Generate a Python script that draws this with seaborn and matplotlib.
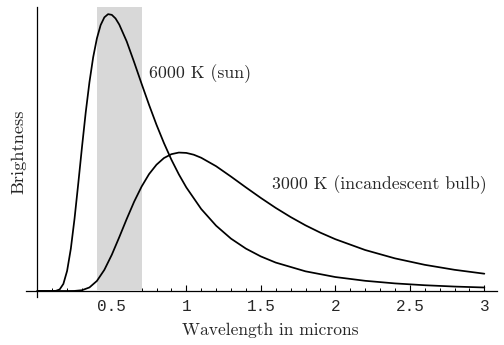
import matplotlib
matplotlib.use("Agg")
import matplotlib.pyplot as plt
import seaborn as sns
import pandas as pd
from matplotlib.ticker import MultipleLocator, FixedLocator

# Wavelength (microns) and brightness (arbitrary units)
lam_sun = [0, 0.05, 0.1, 0.125, 0.15, 0.175, 0.2, 0.225, 0.25, 0.275,
           0.3, 0.325, 0.35, 0.375, 0.4, 0.425, 0.45, 0.475, 0.5, 0.525, 0.55,
           0.6, 0.65, 0.7, 0.75, 0.8, 0.85, 0.9, 0.95, 1.0, 1.1,
           1.2, 1.3, 1.4, 1.5, 1.6, 1.8, 2.0, 2.2, 2.4, 2.6, 2.8, 3.0]
bright_sun = [0, 0, 0.0, 0.0006, 0.0056, 0.0256, 0.0725, 0.1525, 0.2615, 0.3884,
              0.520, 0.645, 0.754, 0.844, 0.912, 0.960, 0.988, 0.9995, 0.997, 0.984, 0.962,
              0.901, 0.826, 0.748, 0.672, 0.600, 0.534, 0.474, 0.421, 0.374, 0.296,
              0.2357, 0.189, 0.153, 0.1248, 0.1026, 0.0710, 0.0504, 0.0368, 0.0274, 0.0208,
              0.0160, 0.0126]

lam_bulb = [0, 0.2, 0.25, 0.3, 0.35, 0.4, 0.45, 0.5, 0.55, 0.6,
            0.65, 0.7, 0.75, 0.8, 0.85, 0.9, 0.95, 1.0, 1.05, 1.1,
            1.2, 1.3, 1.4, 1.5, 1.6, 1.7, 1.8, 1.9, 2.0, 2.2,
            2.4, 2.6, 2.8, 3.0]
bright_bulb = [0, 0, 0.0003, 0.0028, 0.0128, 0.0363, 0.0763, 0.1308, 0.1942, 0.260,
               0.3225, 0.377, 0.422, 0.456, 0.480, 0.494, 0.4998, 0.4985, 0.492, 0.481,
               0.4505, 0.413, 0.374, 0.336, 0.300, 0.267, 0.237, 0.2105, 0.187, 0.148,
               0.1178, 0.0945, 0.0765, 0.0624]

visible_band = [0.4, 0.7]
x_ticks = [0.5, 1, 1.5, 2, 2.5, 3]
x_tick_labels = ["0.5", "1", "1.5", "2", "2.5", "3"]
label_sun = "6000 K (sun)"
label_bulb = "3000 K (incandescent bulb)"

sns.set_style("white")

df_sun = pd.DataFrame({"lam": lam_sun, "b": bright_sun})
df_bulb = pd.DataFrame({"lam": lam_bulb, "b": bright_bulb})

fig = plt.figure(figsize=(5.04, 3.45), dpi=100)
ax = fig.add_axes([26 / 504, 1 - 297 / 345, 471 / 504, 290 / 345])

XMIN, XMAX = -0.0758, 3.085
YMIN, YMAX = -0.0217, 1.0253

ax.fill_between(visible_band, 0, YMAX, color="#d8d8d8", lw=0, zorder=3)

sns.lineplot(data=df_sun, x="lam", y="b", ax=ax, color="black", lw=1.25,
             sort=False, zorder=4)
sns.lineplot(data=df_bulb, x="lam", y="b", ax=ax, color="black", lw=1.25,
             sort=False, zorder=4)

ax.set_xlim(XMIN, XMAX)
ax.set_ylim(YMIN, YMAX)

for s in ["top", "right"]:
    ax.spines[s].set_visible(False)
ax.spines["left"].set_position(("data", 0))
ax.spines["bottom"].set_position(("data", 0))
for s in ["left", "bottom"]:
    ax.spines[s].set_linewidth(0.9)
    ax.spines[s].set_color("black")

ax.xaxis.set_major_locator(FixedLocator(x_ticks))
ax.set_xticklabels(x_tick_labels)
ax.xaxis.set_minor_locator(MultipleLocator(0.1))
ax.tick_params(axis="x", which="major", direction="in", length=4.0, width=0.8,
               color="black", pad=5.5, labelsize=11.5, bottom=True)
ax.tick_params(axis="x", which="minor", direction="in", length=2.2, width=0.7,
               color="black", bottom=True)
for t in ax.get_xticklabels():
    t.set_fontfamily("Liberation Mono")
ax.set_yticks([])
ax.set_xlabel("")
ax.set_ylabel("")

fig.text(270 / 504, 1 - 330 / 345, "Wavelength in microns", family="cmr10",
         fontsize=12.6, ha="center", va="center")
fig.text(19 / 504, 1 - 152 / 345, "Brightness", family="cmr10",
         fontsize=13.2, ha="center", va="center", rotation=90)

ax.text(0.75, 0.783, label_sun, family="cmr10", fontsize=12.8,
        ha="left", va="center")
ax.text(1.574, 0.383, label_bulb, family="cmr10", fontsize=12.8,
        ha="left", va="center")

fig.savefig("out.png", dpi=100)
